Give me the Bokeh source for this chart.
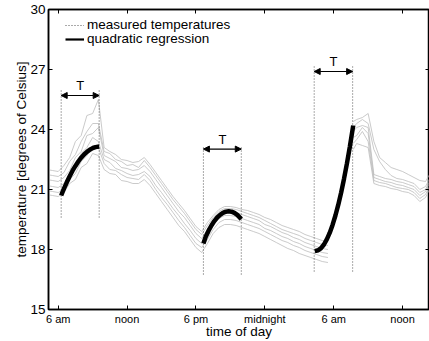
from bokeh.plotting import figure
from bokeh.models import (Range1d, FixedTicker, LinearAxis, Arrow, NormalHead,
                          ColumnDataSource, Legend, LegendItem)
from bokeh.embed import file_html
from bokeh.resources import INLINE
from bokeh.core.properties import value

FONT = "Liberation Sans"
FS = "13.5px"

# ---------------- data ----------------
x_ticks = [6, 12, 18, 24, 30, 36]
x_tick_labels = ["6 am", "noon", "6 pm", "midnight", "6 am", "noon"]
y_ticks = [15, 18, 21, 24, 27, 30]

# hours since midnight of day 1 (first block of measurements)
t_day = [5.0, 5.5, 6.0, 6.5, 7.0, 7.5, 8.0, 8.5, 9.0, 9.5,
         10.0, 10.5, 11.0, 11.5, 12.0, 12.5, 13.0, 13.5, 14.0, 14.5,
         15.0, 15.5, 16.0, 16.5, 17.0, 17.5, 18.0, 18.5, 19.0, 19.5,
         20.0, 20.5, 21.0, 21.5, 22.0, 22.5, 23.0, 23.5, 24.0, 24.5,
         25.0, 25.5, 26.0, 26.5, 27.0, 27.5, 28.0, 28.5, 29.0, 29.5]
# second block of measurements (next morning)
t_next = [31.7, 32.0, 32.5, 33.0, 33.5, 34.0, 34.5, 35.0, 35.5, 36.0,
          36.5, 37.0, 37.5, 38.0, 38.5]

s1_day = [20.75, 20.7, 20.65, 20.85, 21.3, 21.5, 22.1, 22.3, 22.8, 22.7,
          22.0, 21.8, 21.75, 21.45, 21.4, 21.3, 21.3, 21.5, 21.2, 20.8,
          20.4, 20.0, 19.6, 19.2, 18.9, 18.5, 18.1, 17.85, 18.3, 18.8,
          19.1, 19.25, 19.25, 19.2, 19.1, 19.0, 18.9, 18.8, 18.65, 18.5,
          18.35, 18.2, 18.05, 17.95, 17.8, 17.7, 17.6, 17.5, 17.4, 17.35]
s2_day = [20.95, 20.9, 20.85, 21.0, 21.5, 21.8, 22.4, 22.7, 23.2, 23.1,
          22.3, 22.0, 21.95, 21.75, 21.6, 21.55, 21.5, 21.75, 21.45, 21.0,
          20.6, 20.25, 19.85, 19.45, 19.1, 18.7, 18.3, 18.1, 18.5, 19.0,
          19.35, 19.5, 19.5, 19.45, 19.35, 19.25, 19.15, 19.05, 18.9, 18.75,
          18.6, 18.45, 18.35, 18.2, 18.1, 17.95, 17.85, 17.75, 17.65, 17.6]
s3_day = [21.2, 21.15, 21.1, 21.3, 21.8, 22.1, 22.8, 23.1, 23.6, 23.4,
          22.5, 22.35, 22.05, 21.95, 21.8, 21.7, 21.75, 21.9, 21.65, 21.2,
          20.85, 20.45, 20.05, 19.7, 19.3, 18.95, 18.55, 18.3, 18.75, 19.25,
          19.55, 19.7, 19.7, 19.65, 19.55, 19.45, 19.35, 19.25, 19.05, 18.95,
          18.8, 18.65, 18.55, 18.4, 18.3, 18.15, 18.05, 17.95, 17.85, 17.8]
s4_day = [21.5, 21.45, 21.4, 21.6, 21.95, 22.6, 22.9, 23.7, 23.8, 24.1,
          22.7, 22.55, 22.4, 22.1, 22.05, 21.95, 22.0, 22.2, 21.9, 21.5,
          21.1, 20.7, 20.3, 19.9, 19.6, 19.2, 18.8, 18.55, 19.0, 19.45,
          19.75, 19.9, 19.9, 19.85, 19.75, 19.65, 19.55, 19.45, 19.25, 19.15,
          19.0, 18.85, 18.75, 18.6, 18.5, 18.35, 18.25, 18.15, 18.05, 18.0]
s5_day = [21.75, 21.7, 21.65, 21.85, 22.4, 22.75, 23.4, 23.9, 24.3, 24.3,
          22.9, 22.8, 22.5, 22.4, 22.2, 22.25, 22.1, 22.45, 22.1, 21.7,
          21.3, 20.9, 20.5, 20.15, 19.8, 19.4, 19.0, 18.75, 19.2, 19.6,
          19.9, 20.05, 20.05, 20.0, 19.9, 19.8, 19.7, 19.6, 19.45, 19.3,
          19.15, 19.0, 18.9, 18.8, 18.7, 18.55, 18.45, 18.35, 18.25, 18.2]
s6_day = [22.0, 21.95, 21.9, 22.2, 22.6, 23.4, 23.7, 24.7, 24.8, 25.5,
          23.1, 22.9, 22.75, 22.5, 22.45, 22.35, 22.4, 22.6, 22.25, 21.85,
          21.45, 21.05, 20.65, 20.3, 19.95, 19.55, 19.15, 18.9, 19.35, 19.7,
          20.0, 20.15, 20.15, 20.1, 20.0, 19.95, 19.85, 19.75, 19.6, 19.5,
          19.35, 19.2, 19.1, 19.0, 18.9, 18.75, 18.65, 18.55, 18.45, 18.4]

s1_next = [23.0, 23.3, 23.2, 23.1, 21.3, 21.2, 21.15, 21.05, 21.0, 20.9,
           20.85, 20.7, 20.4, 20.6, 21.2]
s2_next = [23.3, 23.5, 23.9, 23.4, 21.45, 21.35, 21.3, 21.2, 21.1, 21.05,
           21.0, 20.85, 20.55, 20.75, 21.35]
s3_next = [23.6, 23.7, 24.1, 23.8, 21.6, 21.5, 21.4, 21.35, 21.25, 21.2,
           21.1, 21.0, 20.7, 20.9, 21.5]
s4_next = [23.9, 24.1, 24.2, 24.1, 21.75, 21.65, 21.55, 21.5, 21.4, 21.35,
           21.25, 21.15, 20.85, 21.0, 21.6]
s5_next = [24.1, 24.3, 24.5, 24.3, 23.0, 22.4, 22.0, 21.7, 21.55, 21.5,
           21.4, 21.3, 21.0, 21.15, 21.7]
s6_next = [24.4, 24.5, 24.6, 24.8, 23.4, 22.6, 22.35, 22.1, 22.0, 21.9,
           21.75, 21.6, 21.45, 21.4, 21.9]

# quadratic regression curves
reg1_t = [6.26, 6.5, 6.75, 7.0, 7.25, 7.5, 7.75, 8.0, 8.25, 8.5, 8.75, 9.0, 9.25, 9.57]
reg1_v = [20.70, 21.04, 21.36, 21.66, 21.94, 22.18, 22.40, 22.59, 22.75, 22.88, 22.99, 23.07, 23.12, 23.15]
reg2_t = [18.65, 18.85, 19.1, 19.35, 19.6, 19.85, 20.1, 20.35, 20.6, 20.85, 21.1, 21.35, 21.6, 21.85, 21.95]
reg2_v = [18.30, 18.64, 18.94, 19.20, 19.42, 19.60, 19.73, 19.83, 19.89, 19.91, 19.89, 19.83, 19.73, 19.58, 19.52]
reg3_t = [28.35, 28.65, 28.9, 29.15, 29.4, 29.65, 29.9, 30.15, 30.4, 30.65, 30.9, 31.15, 31.4, 31.7]
reg3_v = [17.92, 17.96, 18.07, 18.25, 18.51, 18.83, 19.23, 19.70, 20.24, 20.85, 21.54, 22.29, 23.12, 24.20]

# regression windows of length T
win_start = [6.26, 18.65, 28.3]
win_end = [9.57, 21.95, 31.65]
win_bottom = [19.6, 16.75, 16.9]
win_top = [26.0, 23.15, 27.15]
arrow_y = [25.7, 23.02, 26.9]
label_y = [26.2, 23.5, 27.4]
win_label = ["T", "T", "T"]

legend_labels = ["measured temperatures", "quadratic regression"]

NAN = float("nan")

# ---------------- figure ----------------
p = figure(width=429, height=341,
           x_range=Range1d(5.155, 38.345), y_range=Range1d(15, 30),
           output_backend="svg", toolbar_location=None,
           min_border_left=48, min_border_right=0,
           min_border_top=9, min_border_bottom=31,
           background_fill_color="white", border_fill_color="white",
           outline_line_color="black", outline_line_width=1.5)
p.grid.visible = False

p.xaxis.ticker = FixedTicker(ticks=x_ticks)
p.xaxis.major_label_overrides = dict(zip(x_ticks, x_tick_labels))
p.yaxis.ticker = FixedTicker(ticks=y_ticks)
p.xaxis.axis_label = "time of day"
p.yaxis.axis_label = "temperature [degrees of Celsius]"
p.xaxis.major_label_standoff = 3
p.xaxis.axis_label_standoff = -4
p.yaxis.major_label_standoff = 3
p.yaxis.axis_label_standoff = -2

top_axis = LinearAxis(ticker=FixedTicker(ticks=x_ticks))
right_axis = LinearAxis(ticker=FixedTicker(ticks=y_ticks))
p.add_layout(top_axis, "above")
p.add_layout(right_axis, "right")
for ax in (top_axis, right_axis):
    ax.major_label_text_font_size = "0px"
    ax.major_label_text_alpha = 0
    ax.major_label_standoff = 0

for ax in p.axis:
    ax.major_tick_in = 4
    ax.major_tick_out = 0
    ax.minor_tick_in = 0
    ax.minor_tick_out = 0
    ax.axis_line_width = 1.5
    ax.axis_line_color = "black"
    ax.major_tick_line_color = "black"
    ax.major_tick_line_width = 1
    ax.axis_label_text_font = FONT
    ax.axis_label_text_font_size = FS
    ax.axis_label_text_font_style = "normal"
    ax.axis_label_text_color = "black"
    ax.major_label_text_font = FONT
    ax.major_label_text_color = "black"
for ax in (p.xaxis[0], p.yaxis[0]):
    ax.major_label_text_font_size = FS

# measured temperatures
xs = [t_day] * 6 + [t_next] * 6
ys = [s1_day, s2_day, s3_day, s4_day, s5_day, s6_day,
      s1_next, s2_next, s3_next, s4_next, s5_next, s6_next]
p.multi_line(xs, ys, line_color="#bdbdbd", line_width=0.8)

# window markers
p.segment(x0=win_start, y0=win_bottom, x1=win_start, y1=win_top,
          line_color="#555555", line_width=1, line_dash="1 2")
p.segment(x0=win_end, y0=win_bottom, x1=win_end, y1=win_top,
          line_color="#555555", line_width=1, line_dash="1 2")

arrow_src = ColumnDataSource(dict(x0=win_start, x1=win_end, y=arrow_y))
p.add_layout(Arrow(start=NormalHead(size=6, fill_color="black", line_color="black", line_width=1),
                   end=NormalHead(size=6, fill_color="black", line_color="black", line_width=1),
                   x_start="x0", y_start="y", x_end="x1", y_end="y",
                   source=arrow_src, line_color="black", line_width=1.2))

lab_src = ColumnDataSource(dict(x=[(a + b) / 2 for a, b in zip(win_start, win_end)],
                                y=label_y, text=win_label))
p.text(x="x", y="y", text="text", source=lab_src, text_font=value(FONT),
       text_font_size=value("13px"), text_align="center", text_baseline="middle",
       text_color="black")

# quadratic regression
p.multi_line([reg1_t, reg2_t, reg3_t], [reg1_v, reg2_v, reg3_v],
             line_color="black", line_width=4.5, line_cap="butt")

# legend (proxy renderers with no visible data), one legend per row
leg_meas = p.line(x=[t_day[0]], y=[NAN], line_color="#555555", line_dash="1 2", line_width=1)
leg_reg = p.line(x=[t_day[0]], y=[NAN], line_color="black", line_width=2.2)
for lab, rend, vy in ((legend_labels[0], leg_meas, 277), (legend_labels[1], leg_reg, 263)):
    lg = Legend(items=[LegendItem(label=lab, renderers=[rend])],
                location=(17, vy), padding=0, margin=0, spacing=0,
                glyph_width=19, glyph_height=14, label_height=14, label_standoff=3,
                border_line_alpha=0, background_fill_alpha=0,
                label_text_font=FONT, label_text_font_size=FS,
                label_text_color="black")
    p.add_layout(lg)

open("out.html", "w").write(file_html(p, INLINE))
